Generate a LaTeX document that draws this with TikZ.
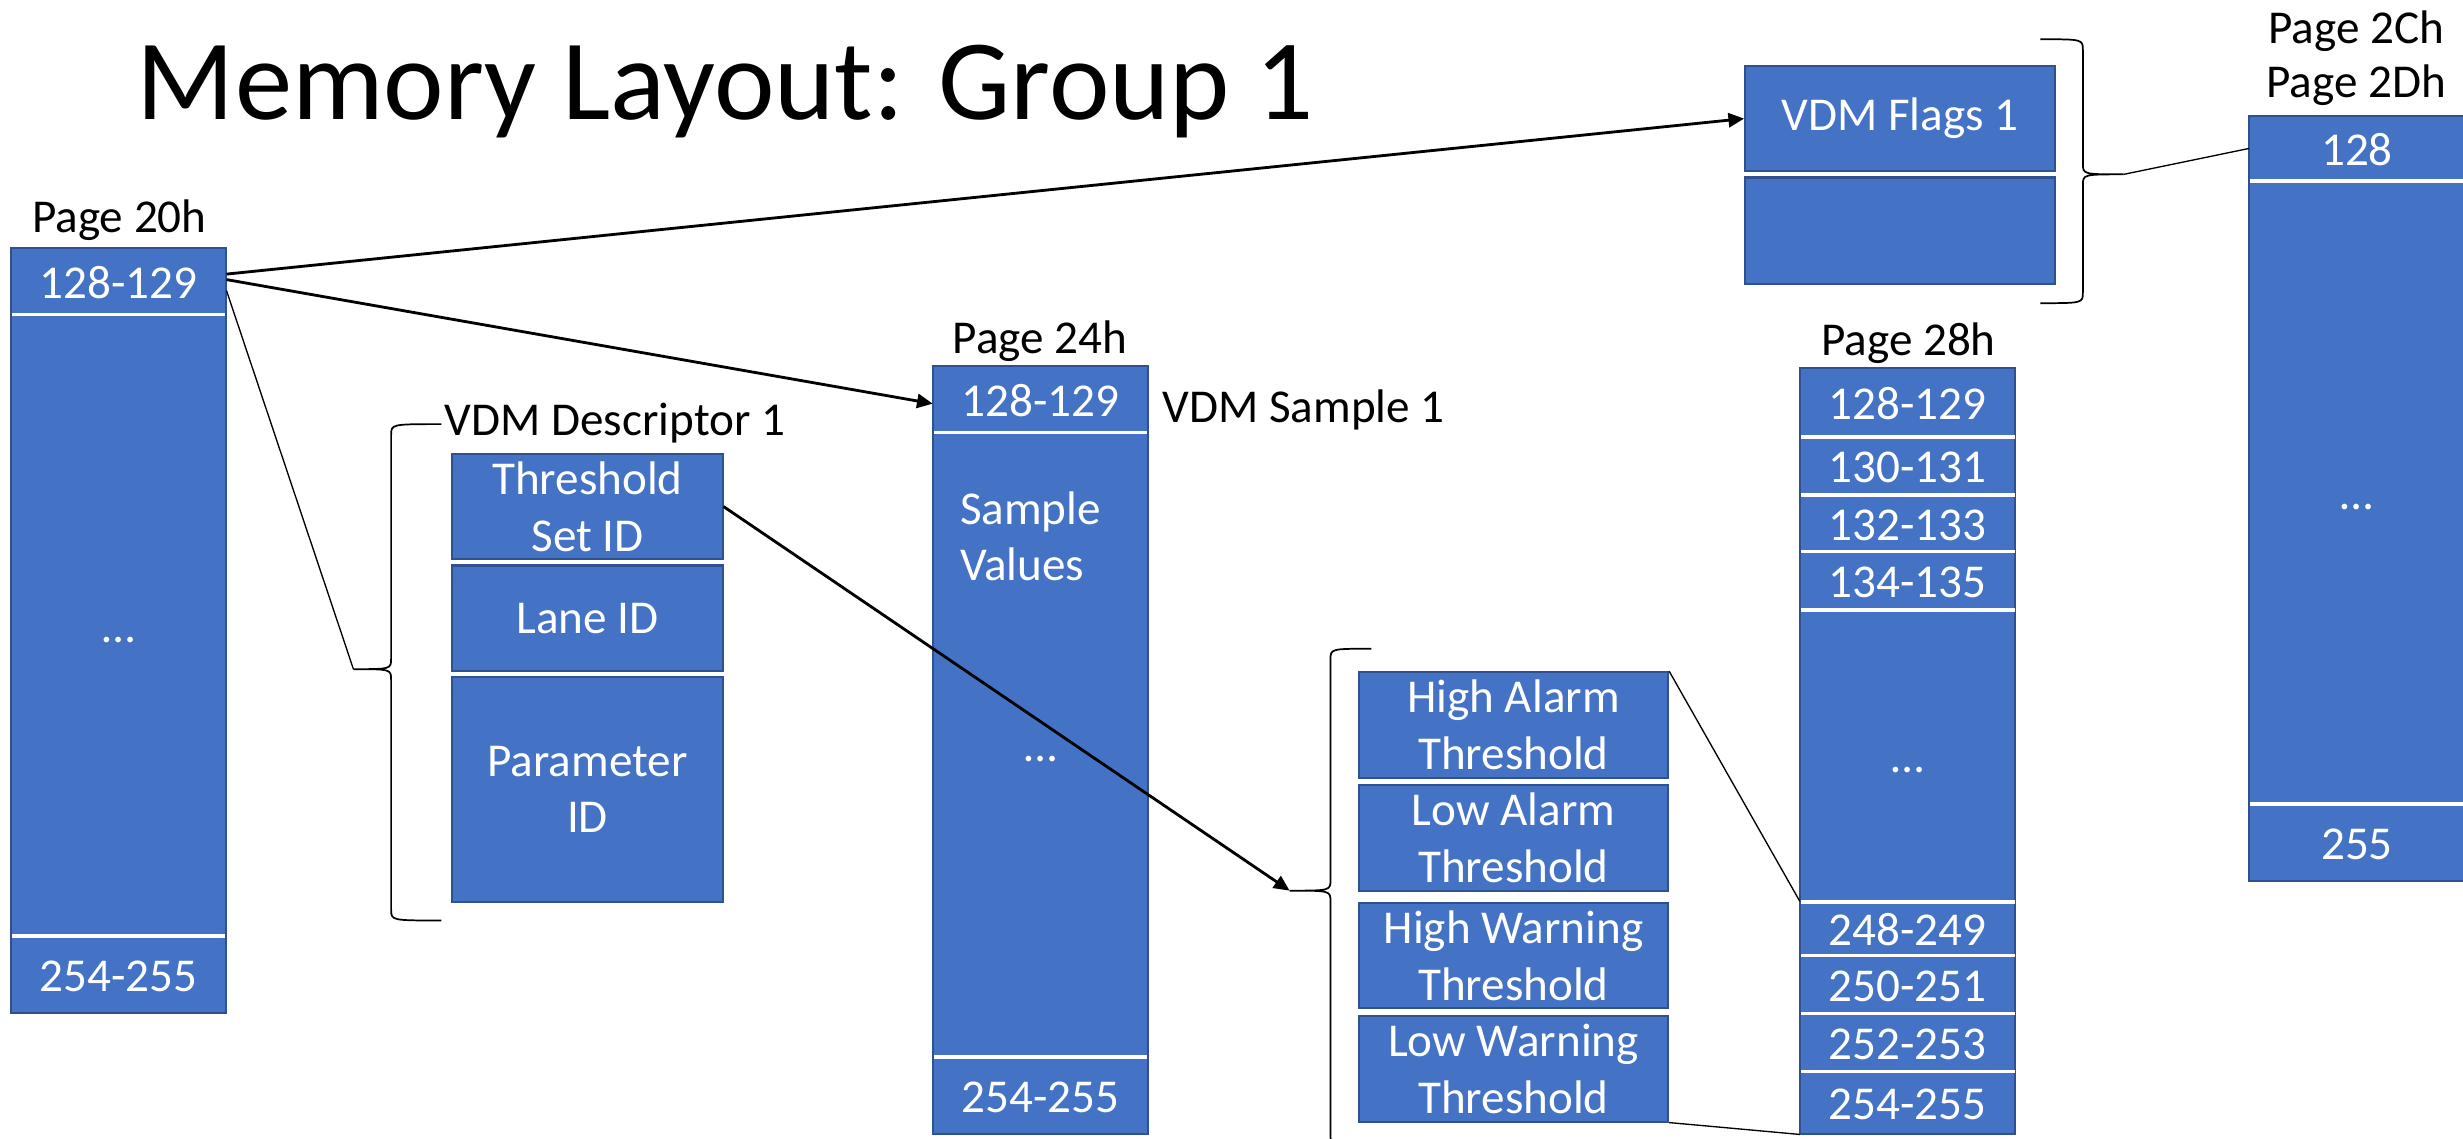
\documentclass[tikz,border=0pt]{standalone}
\usepackage{fontspec}
\setmainfont{Carlito}
\usetikzlibrary{arrows.meta,calc}
\definecolor{cellblue}{HTML}{4472C4}
\definecolor{edgeblue}{HTML}{2F528F}
\newcommand\lblfont{\fontsize{30}{36}\selectfont}
% style, name, x1, y1, x2, y2  (then {text};)
\newcommand\rectnode[6]{\node[#1, minimum width={(#5-#3)*1pt}, minimum height={(#6-#4)*1pt}] (#2) at ({(#3+#5)/2},{(#4+#6)/2})}
% xa xv xt yt ym yb r tipname
\newcommand\drawbrace[8]{%
  \draw[brace] (#1,#4) .. controls (#2,#4) .. (#2,#4+#7) -- (#2,#5-#7)
     .. controls (#2,#5) .. (#3,#5) .. controls (#2,#5) .. (#2,#5+#7)
     -- (#2,#6-#7) .. controls (#2,#6) .. (#1,#6);
  \coordinate (#8) at (#3,#5);}
\begin{document}
\begin{tikzpicture}[x=1pt,y=-1pt,
  col/.style={draw=edgeblue, line width=1.3pt, fill=cellblue, inner sep=0pt},
  cell/.style={inner sep=0pt, text=white, font=\lblfont, text height=25.5pt, text depth=3.6pt},
  box/.style={draw=edgeblue, line width=1.3pt, fill=cellblue, inner sep=0pt, text=white, font=\lblfont, align=center},
  sep/.style={white, line width=2.2pt},
  lab/.style={font=\lblfont, inner sep=0pt, anchor=base},
  arr/.style={line width=1.8pt, -{Triangle[length=10pt,width=9pt]}},
  thin/.style={line width=0.85pt},
  brace/.style={line width=1.1pt}]
\useasboundingbox (0,0) rectangle (1568,725);

% title
\node[anchor=base west, inner sep=0pt, font=\fontsize{73}{80}\selectfont] (title) at (87,76) {Memory Layout: Group 1};

% ---------- Page 20h ----------
\node[lab] (l20) at (76,148) {Page 20h};
\rectnode{col}{p20}{7}{158}{144}{645} {};
\rectnode{cell}{p20a}{7}{158}{144}{200} {128-129};
\rectnode{cell}{p20b}{7}{200}{144}{596} {…};
\rectnode{cell}{p20c}{7}{596}{144}{645} {254-255};
\draw[sep] ($(p20a.south west)+(0.7,0)$) -- ($(p20a.south east)+(-0.7,0)$);
\draw[sep] ($(p20c.north west)+(0.7,0)$) -- ($(p20c.north east)+(-0.7,0)$);

% ---------- VDM Descriptor 1 ----------
\node[lab, anchor=base west] (ldesc) at (283,277) {VDM Descriptor 1};
\rectnode{box}{tsid}{288}{289}{460}{356} {Threshold\\Set ID};
\rectnode{box}{lane}{288}{360}{460}{427} {Lane ID};
\rectnode{box}{param}{288}{431}{460}{574} {Parameter\\ID};
\drawbrace{281}{249}{225}{270}{426}{586}{7}{dtip}

% ---------- Page 24h ----------
\node[lab] (l24) at (662,225) {Page 24h};
\node[lab, anchor=base west] (lsample) at (740,269) {VDM Sample 1};
\rectnode{col}{p24}{594}{233}{731}{722} {};
\rectnode{cell}{p24a}{594}{233}{731}{275} {128-129};
\rectnode{cell}{p24b}{594}{275}{731}{673} {…};
\rectnode{cell}{p24c}{594}{673}{731}{722} {254-255};
\node[inner sep=0pt, text=white, font=\lblfont, align=left, anchor=west] (sv) at (611,341.5) {Sample\\Values};
\draw[sep] ($(p24a.south west)+(0.7,0)$) -- ($(p24a.south east)+(-0.7,0)$);
\draw[sep] ($(p24c.north west)+(0.7,0)$) -- ($(p24c.north east)+(-0.7,0)$);

% ---------- VDM Flags ----------
\rectnode{box}{f1}{1111}{42}{1308}{109} {VDM Flags 1};
\rectnode{box}{f2}{1111}{113}{1308}{181} {};
\drawbrace{1299}{1326}{1352}{25}{111}{193}{7}{ftip}

% ---------- Page 2Ch / 2Dh ----------
\node[lab] (l2c) at (1500,28) {Page 2Ch};
\node[lab] (l2d) at (1500,62) {Page 2Dh};
\rectnode{col}{p2}{1432}{74}{1569}{561} {};
\rectnode{cell}{p2a}{1432}{74}{1569}{115} {128};
\rectnode{cell}{p2b}{1432}{115}{1569}{512} {…};
\rectnode{cell}{p2c}{1432}{512}{1569}{561} {255};
\draw[sep] ($(p2a.south west)+(0.7,0)$) -- (p2a.south east);
\draw[sep] ($(p2c.north west)+(0.7,0)$) -- (p2c.north east);

% ---------- Thresholds ----------
\rectnode{box}{ha}{865}{428}{1062}{495} {High Alarm\\Threshold};
\rectnode{box}{la}{865}{500}{1062}{567} {Low Alarm\\Threshold};
\rectnode{box}{hw}{865}{575}{1062}{642} {High Warning\\Threshold};
\rectnode{box}{lw}{865}{647}{1062}{714} {Low Warning\\Threshold};
\drawbrace{873}{847}{821}{413}{567}{729}{7}{ttip}

% ---------- Page 28h ----------
\node[lab] (l28) at (1215,226) {Page 28h};
\rectnode{col}{p28}{1146}{234}{1283}{722} {};
\rectnode{cell}{p28a}{1146}{234}{1283}{278} {128-129};
\rectnode{cell}{p28b}{1146}{278}{1283}{315} {130-131};
\rectnode{cell}{p28c}{1146}{315}{1283}{351} {132-133};
\rectnode{cell}{p28d}{1146}{351}{1283}{388} {134-135};
\rectnode{cell}{p28e}{1146}{388}{1283}{574} {…};
\rectnode{cell}{p28f}{1146}{574}{1283}{608} {248-249};
\rectnode{cell}{p28g}{1146}{608}{1283}{645} {250-251};
\rectnode{cell}{p28h}{1146}{645}{1283}{682} {252-253};
\rectnode{cell}{p28i}{1146}{682}{1283}{722} {254-255};
\foreach \c in {p28a,p28b,p28c,p28d,p28e,p28f,p28g,p28h}
  \draw[sep] ($(\c.south west)+(0.7,0)$) -- ($(\c.south east)+(-0.7,0)$);

% ---------- connectors ----------
\draw[arr] ($(p20a.east)+(0,-4.5)$) -- (f1.west);
\draw[arr] ($(p20a.east)+(0,-1)$) -- ($(p24a.west)+(0,3)$);
\draw[thin] ($(p20a.east)+(0,6)$) -- (dtip);
\draw[arr] (tsid.east) -- (ttip);
\draw[thin] (ftip) -- (p2a.west);
\draw[thin] (ha.north east) -- (p28f.north west);
\draw[thin] (lw.south east) -- (p28i.south west);
\end{tikzpicture}
\end{document}
